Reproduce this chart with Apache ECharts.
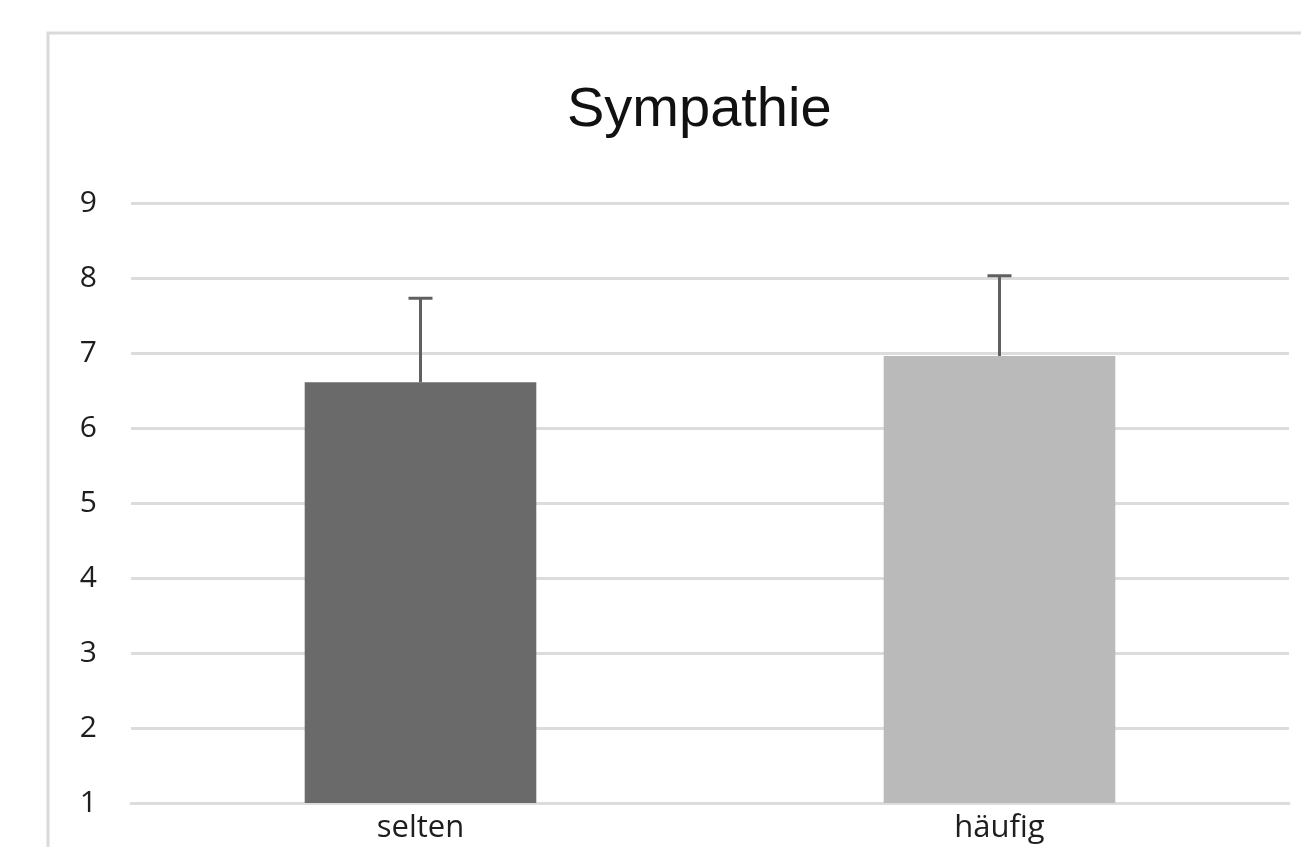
<!DOCTYPE html>
<html>
<head>
<meta charset="utf-8">
<script src="https://cdn.jsdelivr.net/npm/echarts@6/dist/echarts.min.js"></script>
<style>
  html, body { margin: 0; padding: 0; background: #fff; }
  #chart { width: 1301px; height: 847px; }
</style>
</head>
<body>
<div id="chart"></div>
<script>
(function (echarts) {
    'use strict';

    const categories = ['selten', 'häufig'];
    const means = [6.61, 6.96];
    const errUpper = [7.73, 8.03];
    const barColors = ['#6a6a6a', '#bababa'];
    const yTicks = [1, 9, 1]; // min, max, step

    const chart = echarts.init(document.getElementById('chart'));

    const options = {
        animation: false,
        textStyle: {fontFamily: '"Open Sans", sans-serif'},
        graphic: [{
            // outer chart frame, cut off right and bottom like the source
            type: 'rect',
            shape: {x: 48, y: 33, width: 1400, height: 900},
            style: {fill: 'none', stroke: '#dadada', lineWidth: 3},
            z: -1
        }],
        title: {
            text: 'Sympathie',
            left: 562,
            top: 78,
            textStyle: {
                fontFamily: '"Liberation Sans", Arial, sans-serif',
                fontSize: 56,
                fontWeight: 'normal',
                color: '#111'
            }
        },
        grid: {left: 131, right: 12, top: 203, bottom: 44},
        xAxis: {
            type: 'category',
            data: categories,
            axisTick: {show: false},
            axisLine: {lineStyle: {color: '#dcdcdc', width: 3}},
            axisLabel: {color: '#1e1e1e', fontSize: 31, margin: 10}
        },
        yAxis: {
            type: 'value',
            min: yTicks[0],
            max: yTicks[1],
            interval: yTicks[2],
            axisLine: {show: false},
            axisTick: {show: false},
            axisLabel: {color: '#1e1e1e', fontSize: 30, margin: 34, padding: [6, 0, 0, 0]},
            splitLine: {lineStyle: {color: '#dcdcdc', width: 3}}
        },
        series: [{
            type: 'bar',
            barWidth: '40%',
            data: means.map((v, i) => ({value: v, itemStyle: {color: barColors[i]}}))
        }, {
            type: 'custom',
            z: 3,
            data: means.map((v, i) => [i, v, errUpper[i]]),
            renderItem: function (params, api) {
                const base = api.coord([api.value(0), api.value(1)]);
                const top = api.coord([api.value(0), api.value(2)]);
                const half = 12;
                const style = {stroke: '#606060', lineWidth: 3};
                return {
                    type: 'group',
                    children: [
                        {type: 'line', shape: {x1: base[0], y1: base[1], x2: top[0], y2: top[1]}, style: style},
                        {type: 'line', shape: {x1: top[0] - half, y1: top[1], x2: top[0] + half, y2: top[1]}, style: style}
                    ]
                };
            }
        }]
    };

    chart.setOption(options);
})(echarts);
</script>
</body>
</html>
